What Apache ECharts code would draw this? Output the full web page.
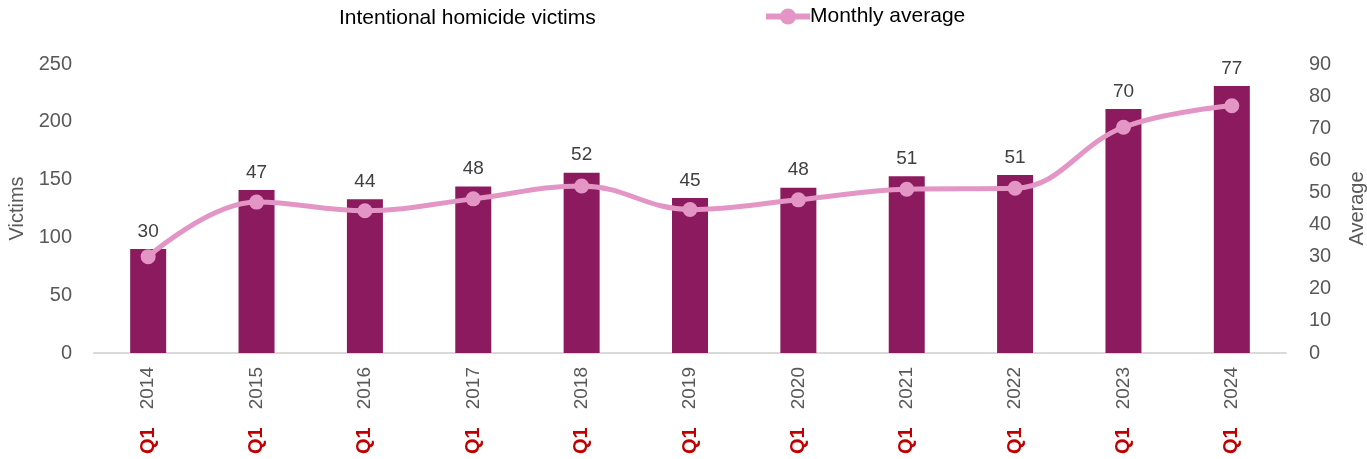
<!DOCTYPE html>
<html>
<head>
<meta charset="utf-8">
<script src="https://cdn.jsdelivr.net/npm/echarts@6/dist/echarts.min.js"></script>
<style>
  html, body { margin: 0; padding: 0; background: #fff; }
  #chart { width: 1367px; height: 459px; }
</style>
</head>
<body>
<div id="chart"></div>
<script>
// data
const years = ["2014", "2015", "2016", "2017", "2018", "2019", "2020", "2021", "2022", "2023", "2024"];
const quarter = "Q1";
const victims = [90, 141, 133, 144, 156, 134, 143, 153, 154, 211, 231];
const monthlyAvg = [30, 47, 44.3, 48, 52, 44.7, 47.7, 51, 51.3, 70.3, 77];

const FONT = "Liberation Sans";
const chart = echarts.init(document.getElementById("chart"));

chart.setOption({
  textStyle: { fontFamily: FONT },
  title: {
    text: "Intentional homicide victims",
    left: 334,
    top: 3,
    textStyle: { fontFamily: FONT, fontSize: 21, fontWeight: "normal", color: "#000" }
  },
  legend: {
    data: [{ name: "Monthly average" }],
    left: 758,
    top: 1,
    itemWidth: 44,
    itemHeight: 20,
    itemGap: 6,
    lineStyle: { width: 6 },
    textStyle: { fontFamily: FONT, fontSize: 21, color: "#000", padding: [0, 0, 0, -5] }
  },
  grid: { left: 94, right: 81, top: 64, bottom: 106, outerBoundsMode: "none" },
  xAxis: {
    type: "category",
    data: years,
    axisLine: { lineStyle: { color: "#D9D9D9", width: 2 } },
    axisTick: { show: false },
    axisLabel: {
      rotate: 90,
      margin: 14,
      formatter: function (v) {
        return "{q|" + quarter + "}{g|}{y|" + v + "}";
      },
      rich: {
        q: { color: "#C00000", fontWeight: "bold", fontSize: 20, fontFamily: FONT },
        g: { width: 18 },
        y: { color: "#595959", fontSize: 19, fontFamily: FONT }
      }
    }
  },
  yAxis: [
    {
      type: "value",
      min: 0,
      max: 250,
      interval: 50,
      name: "Victims",
      nameLocation: "middle",
      nameGap: 62,
      nameTextStyle: { fontFamily: FONT, fontSize: 20, color: "#595959" },
      axisLine: { show: false },
      axisTick: { show: false },
      splitLine: { show: false },
      axisLabel: { fontFamily: FONT, fontSize: 20, color: "#595959", margin: 22 }
    },
    {
      type: "value",
      min: 0,
      max: 90,
      interval: 10,
      name: "Average",
      nameLocation: "middle",
      nameGap: 61,
      nameTextStyle: { fontFamily: FONT, fontSize: 20, color: "#595959" },
      axisLine: { show: false },
      axisTick: { show: false },
      splitLine: { show: false },
      axisLabel: { fontFamily: FONT, fontSize: 20, color: "#595959", margin: 23 }
    }
  ],
  series: [
    {
      name: "Intentional homicide victims",
      type: "bar",
      yAxisIndex: 0,
      data: victims,
      barWidth: 36,
      itemStyle: { color: "#8C1A5E" },
      // the average labels sit just above each bar
      label: {
        show: true,
        position: "top",
        distance: 8,
        fontFamily: FONT,
        fontSize: 19,
        color: "#404040",
        formatter: function (p) { return Math.round(monthlyAvg[p.dataIndex]); }
      }
    },
    {
      name: "Monthly average",
      type: "line",
      yAxisIndex: 1,
      data: monthlyAvg,
      smooth: 0.4,
      symbol: "circle",
      symbolSize: 15,
      lineStyle: { color: "#E396C5", width: 5 },
      itemStyle: { color: "#E396C5" },
      z: 3
    }
  ]
});
</script>
</body>
</html>
